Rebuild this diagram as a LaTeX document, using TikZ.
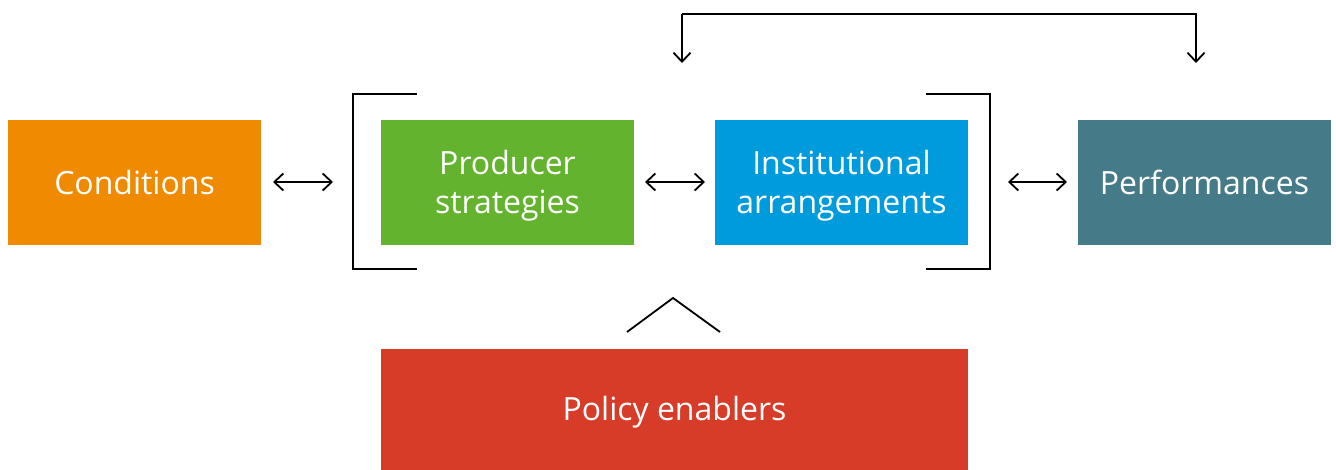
\documentclass[tikz,border=0pt]{standalone}
\usepackage{fontspec}
\setmainfont{Open Sans}
\usetikzlibrary{arrows.meta}
\definecolor{corange}{HTML}{F08A00}
\definecolor{cgreen}{HTML}{64B32E}
\definecolor{cblue}{HTML}{009BDC}
\definecolor{cteal}{HTML}{457A89}
\definecolor{cred}{HTML}{D63C28}
\begin{document}
\begin{tikzpicture}[x=1pt,y=-1pt,
  label text/.style={text=white, inner sep=0pt, align=center,
    font=\fontsize{32}{39}\selectfont},
  block/.style={fill=#1, minimum width=253pt, minimum height=125pt, inner sep=0pt},
  link/.style={line width=1.8pt, {Straight Barb[length=9pt,width=17pt]}-{Straight Barb[length=9pt,width=17pt]}},
  drop/.style={line width=1.8pt, -{Straight Barb[length=9pt,width=17pt]}},
  frame/.style={line width=1.8pt}]
\useasboundingbox (0,0) rectangle (1336,470);
% blocks
\node[block=corange] (cond) at (134.5,182.5) {};
\node[block=cgreen] (prod) at (507.5,182.5) {};
\node[block=cblue] (inst) at (841.5,182.5) {};
\node[block=cteal] (perf) at (1204.5,182.5) {};
\node[block=cred, minimum width=587pt, minimum height=121pt] (pol) at (674.5,409.5) {};
% block labels
\node[label text] at (cond) {Conditions};
\node[label text] at ([yshift=-3pt]prod.center) {Producer\\strategies};
\node[label text] at ([yshift=-3pt]inst.center) {Institutional\\arrangements};
\node[label text] at (perf) {Performances};
\node[label text] at ([yshift=-3pt]pol.center) {Policy enablers};
% two-way links
\coordinate (a1) at (273,182); \coordinate (a2) at (333,182);
\coordinate (b1) at (645,182); \coordinate (b2) at (705,182);
\coordinate (c1) at (1008,182); \coordinate (c2) at (1067,182);
\draw[link] (a1) -- (a2);
\draw[link] (b1) -- (b2);
\draw[link] (c1) -- (c2);
% brackets around the core pair
\draw[frame] (417,94) -- (353,94) -- (353,269) -- (417,269);
\draw[frame] (926,94) -- (990,94) -- (990,269) -- (926,269);
% feedback loop on top
\coordinate (t0) at (682,14); \coordinate (t3) at (1196,14);
\coordinate (t1) at (682,63); \coordinate (t2) at (1196,63);
\draw[drop] (t0) -- (t1);
\draw[drop] (t0) -- (t3) -- (t2);
% caret above the policy block
\draw[frame] (627,332) -- (673,298) -- (720,332);
\end{tikzpicture}
\end{document}
